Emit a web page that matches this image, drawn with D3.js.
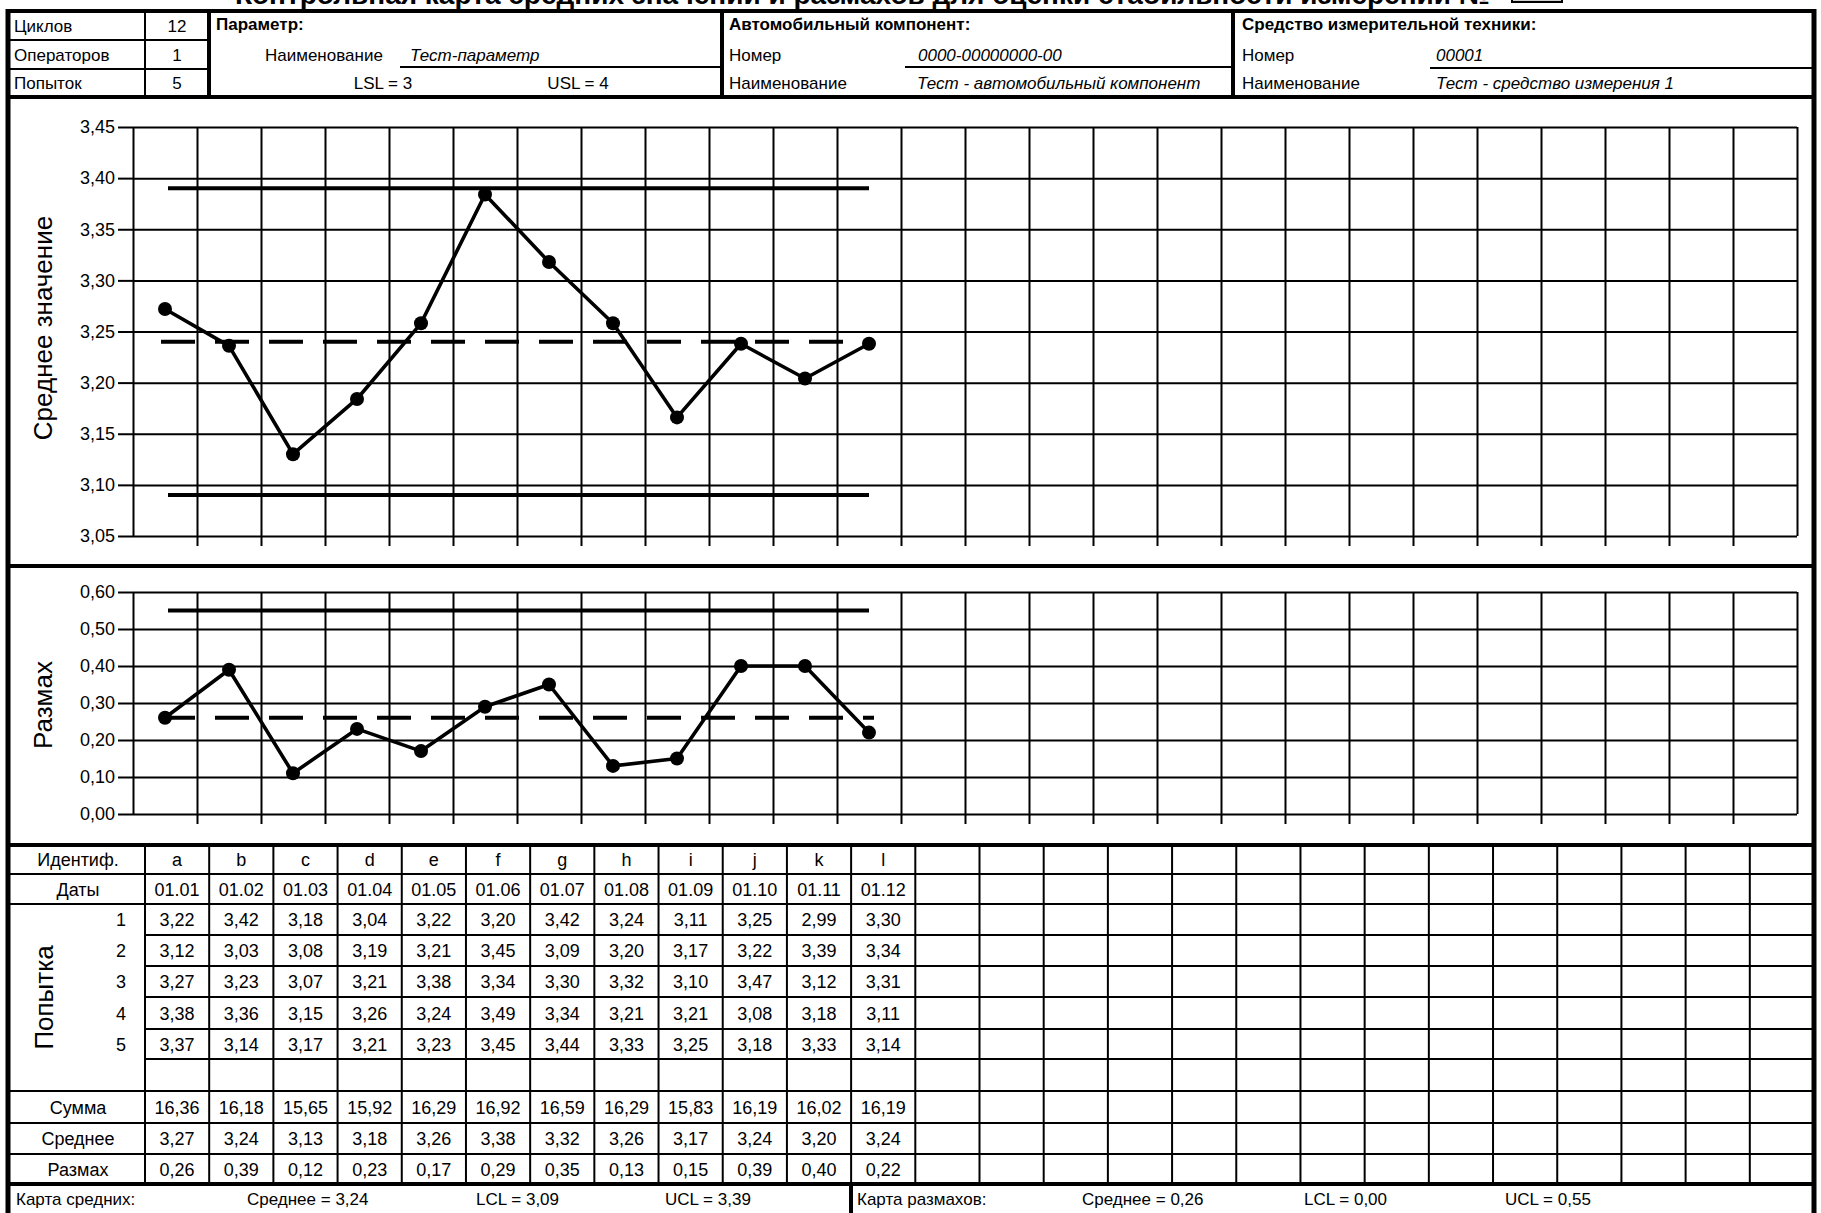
<!DOCTYPE html>
<html>
<head>
<meta charset="utf-8">
<script src="https://cdn.jsdelivr.net/npm/d3@7"></script>
<style>
  body { margin: 0; background: #fff; }
  svg { display: block; font-family: "Liberation Sans", Arial, sans-serif; }
</style>
</head>
<body>
<div id="chart"></div>
<script>
const ids = ["a", "b", "c", "d", "e", "f", "g", "h", "i", "j", "k", "l"];
const dates = ["01.01", "01.02", "01.03", "01.04", "01.05", "01.06", "01.07", "01.08", "01.09", "01.10", "01.11", "01.12"];
const attempt1 = [3.22, 3.42, 3.18, 3.04, 3.22, 3.20, 3.42, 3.24, 3.11, 3.25, 2.99, 3.30];
const attempt2 = [3.12, 3.03, 3.08, 3.19, 3.21, 3.45, 3.09, 3.20, 3.17, 3.22, 3.39, 3.34];
const attempt3 = [3.27, 3.23, 3.07, 3.21, 3.38, 3.34, 3.30, 3.32, 3.10, 3.47, 3.12, 3.31];
const attempt4 = [3.38, 3.36, 3.15, 3.26, 3.24, 3.49, 3.34, 3.21, 3.21, 3.08, 3.18, 3.11];
const attempt5 = [3.37, 3.14, 3.17, 3.21, 3.23, 3.45, 3.44, 3.33, 3.25, 3.18, 3.33, 3.14];
const sums = [16.36, 16.18, 15.65, 15.92, 16.29, 16.92, 16.59, 16.29, 15.83, 16.19, 16.02, 16.19];
const means = [3.27, 3.24, 3.13, 3.18, 3.26, 3.38, 3.32, 3.26, 3.17, 3.24, 3.20, 3.24];
const ranges = [0.26, 0.39, 0.12, 0.23, 0.17, 0.29, 0.35, 0.13, 0.15, 0.39, 0.40, 0.22];

// plotted points (as drawn on the charts)
const meanPoints = [3.272, 3.236, 3.13, 3.184, 3.258, 3.384, 3.318, 3.258, 3.166, 3.238, 3.204, 3.238];
const rangePoints = [0.26, 0.39, 0.11, 0.23, 0.17, 0.29, 0.35, 0.13, 0.15, 0.40, 0.40, 0.22];

const meanTicks = [3.05, 3.10, 3.15, 3.20, 3.25, 3.30, 3.35, 3.40, 3.45];
const rangeTicks = [0.00, 0.10, 0.20, 0.30, 0.40, 0.50, 0.60];

// LCL, CL, UCL
const meanLimits = [3.09, 3.24, 3.39];
const rangeLimits = [0.00, 0.26, 0.55];

const columnCount = 26;

const W = 1821, H = 1213;
const loc = d3.formatLocale({ decimal: ",", thousands: " ", grouping: [3], currency: ["", ""] });
const fmt2 = loc.format(".2f");

const svg = d3.select("#chart").append("svg").attr("width", W).attr("height", H);

const frameL = 8, frameR = 1814, frameT = 11;

// ---- title (cut off at top, as on the scan) ----
svg.append("text")
  .attr("x", 1490).attr("y", 4)
  .attr("text-anchor", "end")
  .attr("font-size", 28).attr("font-weight", "bold")
  .text("Контрольная карта средних значений и размахов для оценки стабильности измерений №");
svg.append("rect")
  .attr("x", 1512).attr("y", -20).attr("width", 50).attr("height", 22)
  .attr("fill", "#d0d0d0").attr("stroke", "#000").attr("stroke-width", 2);

// ---- frame ----
const frame = svg.append("g").attr("stroke", "#000").attr("fill", "none");
frame.append("line").attr("x1", frameL).attr("x2", frameR).attr("y1", frameT).attr("y2", frameT).attr("stroke-width", 4);
frame.append("line").attr("x1", frameL).attr("x2", frameL).attr("y1", frameT - 2).attr("y2", H + 5).attr("stroke-width", 5);
frame.append("line").attr("x1", frameR).attr("x2", frameR).attr("y1", frameT - 2).attr("y2", H + 5).attr("stroke-width", 5);
[97, 566, 845, 1184].forEach((y) => {
  frame.append("line").attr("x1", frameL).attr("x2", frameR).attr("y1", y).attr("y2", y).attr("stroke-width", 4);
});

// ---- header ----
const head = svg.append("g").attr("font-size", 17);
// small table on the left
frame.append("line").attr("x1", 145).attr("x2", 145).attr("y1", frameT).attr("y2", 97).attr("stroke-width", 2);
[40, 69].forEach((y) => {
  frame.append("line").attr("x1", frameL).attr("x2", 209).attr("y1", y).attr("y2", y).attr("stroke-width", 2);
});
[209, 722, 1233].forEach((x) => {
  frame.append("line").attr("x1", x).attr("x2", x).attr("y1", frameT).attr("y2", 97).attr("stroke-width", 4);
});
const headRows = [
  ["Циклов", "12", 32],
  ["Операторов", "1", 61],
  ["Попыток", "5", 89],
];
headRows.forEach(([lab, val, y]) => {
  head.append("text").attr("x", 14).attr("y", y).text(lab);
  head.append("text").attr("x", 177).attr("y", y).attr("text-anchor", "middle").text(val);
});

// Параметр
head.append("text").attr("x", 216).attr("y", 30).attr("font-weight", "bold").text("Параметр:");
head.append("text").attr("x", 265).attr("y", 61).text("Наименование");
head.append("text").attr("x", 410).attr("y", 61).attr("font-style", "italic").text("Тест-параметр");
frame.append("line").attr("x1", 400).attr("x2", 722).attr("y1", 67).attr("y2", 67).attr("stroke-width", 2);
head.append("text").attr("x", 383).attr("y", 89).attr("text-anchor", "middle").text("LSL = 3");
head.append("text").attr("x", 578).attr("y", 89).attr("text-anchor", "middle").text("USL = 4");

// Автомобильный компонент
head.append("text").attr("x", 729).attr("y", 30).attr("font-weight", "bold").text("Автомобильный компонент:");
head.append("text").attr("x", 729).attr("y", 61).text("Номер");
head.append("text").attr("x", 918).attr("y", 61).attr("font-style", "italic").text("0000-00000000-00");
frame.append("line").attr("x1", 905).attr("x2", 1233).attr("y1", 67).attr("y2", 67).attr("stroke-width", 2);
head.append("text").attr("x", 729).attr("y", 89).text("Наименование");
head.append("text").attr("x", 917).attr("y", 89).attr("font-style", "italic").text("Тест - автомобильный компонент");

// Средство измерительной техники
head.append("text").attr("x", 1242).attr("y", 30).attr("font-weight", "bold").text("Средство измерительной техники:");
head.append("text").attr("x", 1242).attr("y", 61).text("Номер");
head.append("text").attr("x", 1436).attr("y", 61).attr("font-style", "italic").text("00001");
frame.append("line").attr("x1", 1430).attr("x2", frameR).attr("y1", 68).attr("y2", 68).attr("stroke-width", 2);
head.append("text").attr("x", 1242).attr("y", 89).text("Наименование");
head.append("text").attr("x", 1436).attr("y", 89).attr("font-style", "italic").text("Тест - средство измерения 1");

// ---- charts ----
const plotL = 133, plotR = 1797;
const x = d3.scaleLinear().domain([0, columnCount]).range([plotL, plotR]);
const cx = (i) => x(i + 0.5);

function drawChart(cfg) {
  const { top, bottom, domain, ticks, points, limits, title, titleY } = cfg;
  const y = d3.scaleLinear().domain(domain).range([bottom, top]);
  const g = svg.append("g");

  // horizontal grid
  g.append("g")
    .attr("transform", `translate(${plotL},0)`)
    .call(d3.axisLeft(y).tickValues(ticks).tickSize(-(plotR - plotL)).tickFormat(""))
    .call((s) => s.select(".domain").remove())
    .call((s) => s.selectAll("line").attr("stroke", "#000").attr("stroke-width", 2));

  // labelled ticks on the left
  g.append("g")
    .attr("transform", `translate(${plotL},0)`)
    .call(d3.axisLeft(y).tickValues(ticks).tickSize(15).tickPadding(3).tickFormat(fmt2))
    .call((s) => s.select(".domain").remove())
    .call((s) => s.selectAll("line").attr("stroke", "#000").attr("stroke-width", 2))
    .call((s) => s.selectAll("text").attr("font-size", 18).attr("fill", "#000")
      .attr("font-family", "'Liberation Sans', Arial, sans-serif"));

  // vertical grid
  g.append("g")
    .attr("transform", `translate(0,${bottom})`)
    .call(d3.axisBottom(x).tickValues(d3.range(0, columnCount + 1)).tickSize(-(bottom - top)).tickFormat(""))
    .call((s) => s.select(".domain").remove())
    .call((s) => s.selectAll("line").attr("stroke", "#000").attr("stroke-width", 2));

  // small ticks below
  g.append("g")
    .attr("transform", `translate(0,${bottom})`)
    .call(d3.axisBottom(x).tickValues(d3.range(1, columnCount)).tickSize(10).tickFormat(""))
    .call((s) => s.select(".domain").remove())
    .call((s) => s.selectAll("line").attr("stroke", "#000").attr("stroke-width", 2));

  // control limits
  const x0 = cx(0), x1 = cx(points.length - 1);
  const [lcl, cl, ucl] = limits;
  [lcl, ucl].forEach((v) => {
    if (v <= domain[0]) return;
    g.append("line")
      .attr("x1", x0 + 3).attr("x2", x1)
      .attr("y1", y(v)).attr("y2", y(v))
      .attr("stroke", "#000").attr("stroke-width", 4);
  });
  g.append("line")
    .attr("x1", x0 - 4).attr("x2", x1 + 5)
    .attr("y1", y(cl)).attr("y2", y(cl))
    .attr("stroke", "#000").attr("stroke-width", 4)
    .attr("stroke-dasharray", "34,20");

  // data line + points
  const line = d3.line().x((d, i) => cx(i)).y((d) => y(d));
  g.append("path")
    .datum(points)
    .attr("d", line)
    .attr("fill", "none").attr("stroke", "#000").attr("stroke-width", 3.6)
    .attr("stroke-linejoin", "round");
  g.selectAll("circle.pt")
    .data(points)
    .enter()
    .append("circle")
    .attr("class", "pt")
    .attr("cx", (d, i) => cx(i))
    .attr("cy", (d) => y(d))
    .attr("r", 7)
    .attr("fill", "#000");

  // axis title
  g.append("text")
    .attr("transform", `translate(52,${titleY}) rotate(-90)`)
    .attr("text-anchor", "middle")
    .attr("font-size", 26)
    .text(title);
}

drawChart({
  top: 127, bottom: 536, domain: [3.05, 3.45], ticks: meanTicks,
  points: meanPoints, limits: meanLimits, title: "Среднее значение", titleY: 328,
});
drawChart({
  top: 592, bottom: 814, domain: [0, 0.6], ticks: rangeTicks,
  points: rangePoints, limits: rangeLimits, title: "Размах", titleY: 705,
});

// ---- data table ----
const tx = d3.scaleLinear().domain([0, columnCount]).range([145, frameR]);
const rowY = [845, 874, 904, 935, 966, 997, 1029, 1059, 1091, 1123, 1154, 1184];
const tbl = svg.append("g").attr("font-size", 18);
const tLines = svg.append("g").attr("stroke", "#000").attr("stroke-width", 2);

// vertical lines
d3.range(0, columnCount + 1).forEach((c) => {
  tLines.append("line").attr("x1", tx(c)).attr("x2", tx(c)).attr("y1", 845).attr("y2", 1184);
});
// horizontal lines
rowY.slice(1, -1).forEach((y, i) => {
  const inner = i >= 2 && i <= 6; // lines between attempt rows
  tLines.append("line")
    .attr("x1", inner ? tx(0) : frameL).attr("x2", frameR)
    .attr("y1", y).attr("y2", y);
});

const tableRows = [
  { label: "Идентиф.", values: ids },
  { label: "Даты", values: dates },
  { num: "1", values: attempt1.map(fmt2) },
  { num: "2", values: attempt2.map(fmt2) },
  { num: "3", values: attempt3.map(fmt2) },
  { num: "4", values: attempt4.map(fmt2) },
  { num: "5", values: attempt5.map(fmt2) },
  { values: [] },
  { label: "Сумма", values: sums.map(fmt2) },
  { label: "Среднее", values: means.map(fmt2) },
  { label: "Размах", values: ranges.map(fmt2) },
];

tableRows.forEach((row, r) => {
  const mid = (rowY[r] + rowY[r + 1]) / 2 + 6.5;
  if (row.label) {
    tbl.append("text").attr("x", 78).attr("y", mid).attr("text-anchor", "middle").text(row.label);
  }
  if (row.num) {
    tbl.append("text").attr("x", 126).attr("y", mid).attr("text-anchor", "end").text(row.num);
  }
  tbl.selectAll(null)
    .data(row.values)
    .enter()
    .append("text")
    .attr("x", (d, i) => tx(i + 0.5))
    .attr("y", mid)
    .attr("text-anchor", "middle")
    .text((d) => d);
});

tbl.append("text")
  .attr("transform", `translate(53,${(rowY[2] + rowY[8]) / 2}) rotate(-90)`)
  .attr("text-anchor", "middle")
  .attr("font-size", 26)
  .text("Попытка");

// ---- footer ----
frame.append("line").attr("x1", 851).attr("x2", 851).attr("y1", 1184).attr("y2", H + 5).attr("stroke-width", 4);
const foot = svg.append("g").attr("font-size", 17);
const footY = 1205;
[
  [16, "Карта средних:"],
  [247, "Среднее = " + fmt2(meanLimits[1])],
  [476, "LCL = " + fmt2(meanLimits[0])],
  [665, "UCL = " + fmt2(meanLimits[2])],
  [857, "Карта размахов:"],
  [1082, "Среднее = " + fmt2(rangeLimits[1])],
  [1304, "LCL = " + fmt2(rangeLimits[0])],
  [1505, "UCL = " + fmt2(rangeLimits[2])],
].forEach(([xx, t]) => {
  foot.append("text").attr("x", xx).attr("y", footY).text(t);
});
</script>
</body>
</html>
